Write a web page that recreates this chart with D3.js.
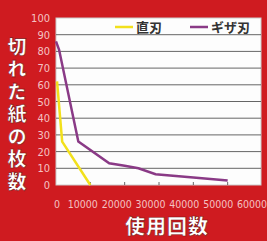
<!DOCTYPE html>
<html><head><meta charset="utf-8">
<script src="https://cdn.jsdelivr.net/npm/d3@7"></script>
<style>html,body{margin:0;padding:0;background:#cf1b20;}svg{display:block;}</style>
</head><body>
<script>
const seriesNames = ["直刃", "ギザ刃"];
const straightBlade = [[300, 62], [1800, 26], [10000, 0]];
const serratedBlade = [[0, 86], [900, 81], [6500, 26], [15500, 13], [20000, 11.5], [24000, 10], [29000, 6.5], [40000, 4.5], [50000, 2.7]];
const xTicks = [0, 10000, 20000, 30000, 40000, 50000, 60000];
const yTicks = [0, 10, 20, 30, 40, 50, 60, 70, 80, 90, 100];
const yTitle = "切れた紙の枚数";
const xTitle = "使用回数";

(function () {
const W = 267, H = 241;
const svg = d3.select("body").append("svg").attr("width", W).attr("height", H);
svg.append("rect").attr("width", W).attr("height", H).attr("fill", "#cf1b20");

const pLeft = 56, pRight = 262, pTop = 18, pBottom = 185;
const x = d3.scaleLinear().domain([0, 60000]).range([pLeft, pRight]);
const y = d3.scaleLinear().domain([0, 100]).range([pBottom, pTop]);

svg.append("rect").attr("x", pLeft).attr("y", pTop).attr("width", 205).attr("height", pBottom - pTop)
  .attr("fill", "#fdfdfd").attr("stroke", "#cccccc").attr("stroke-width", 1);

svg.append("g").selectAll("line").data(yTicks.filter(d => d > 0 && d < 100)).join("line")
  .attr("x1", pLeft).attr("x2", pLeft + 205).attr("y1", d => y(d)).attr("y2", d => y(d))
  .attr("stroke", "#666").attr("stroke-width", 1);

svg.append("g").selectAll("text").data(yTicks).join("text")
  .attr("x", 50).attr("y", d => y(d) + 4).attr("text-anchor", "end")
  .attr("font-family", "'Liberation Sans Narrow', 'DejaVu Sans Condensed', sans-serif")
  .attr("font-size", 11).attr("fill", "#f4c2c2").text(d => d);

svg.append("g").selectAll("line").data(xTicks.filter(d => d > 0 && d < 60000)).join("line")
  .attr("x1", d => x(d)).attr("x2", d => x(d)).attr("y1", pBottom).attr("y2", pBottom - 3)
  .attr("stroke", "#666");
svg.append("g").selectAll("text").data(xTicks).join("text")
  .attr("x", d => x(d) - (d === 0 ? -1 : 7 + d / 60000 * 3)).attr("y", 208).attr("text-anchor", "middle")
  .attr("font-family", "'Liberation Sans Narrow', 'DejaVu Sans Condensed', sans-serif")
  .attr("font-size", 10.5).attr("fill", "#f4c2c2").text(d => d);

const line = d3.line().x(d => x(d[0])).y(d => y(d[1]));
svg.append("path").datum(straightBlade).attr("d", line).attr("fill", "none")
  .attr("stroke", "#f2e01c").attr("stroke-width", 2.5);
svg.append("path").datum(serratedBlade).attr("d", line).attr("fill", "none")
  .attr("stroke", "#8a3a86").attr("stroke-width", 2.5);

const legend = [{name: seriesNames[0], color: "#f2e01c", x: 115}, {name: seriesNames[1], color: "#8a3a86", x: 190}];
const lg = svg.append("g");
lg.selectAll("line").data(legend).join("line")
  .attr("x1", d => d.x).attr("x2", d => d.x + 18).attr("y1", 27).attr("y2", 27)
  .attr("stroke", d => d.color).attr("stroke-width", 2.5);
lg.selectAll("text").data(legend).join("text")
  .attr("x", d => d.x + 21).attr("y", 32)
  .attr("font-family", "'Noto Sans CJK JP', sans-serif").attr("font-weight", "bold")
  .attr("font-size", 13).attr("fill", "#333").text(d => d.name);

svg.append("text").attr("x", 17).attr("y", 37)
  .attr("writing-mode", "vertical-rl").style("writing-mode", "vertical-rl")
  .attr("letter-spacing", 3.5)
  .attr("font-family", "'Noto Sans CJK JP', sans-serif").attr("font-weight", "900")
  .attr("font-size", 19).attr("fill", "#ffffff")
  .attr("stroke", "#7a1010").attr("stroke-width", 0.6).text(yTitle);

svg.append("text").attr("x", 167).attr("y", 234).attr("text-anchor", "middle")
  .attr("font-family", "'Noto Sans CJK JP', sans-serif").attr("font-weight", "900")
  .attr("font-size", 20).attr("letter-spacing", 1).attr("fill", "#ffffff")
  .attr("stroke", "#7a1010").attr("stroke-width", 0.6).text(xTitle);
})();
</script>
</body></html>
